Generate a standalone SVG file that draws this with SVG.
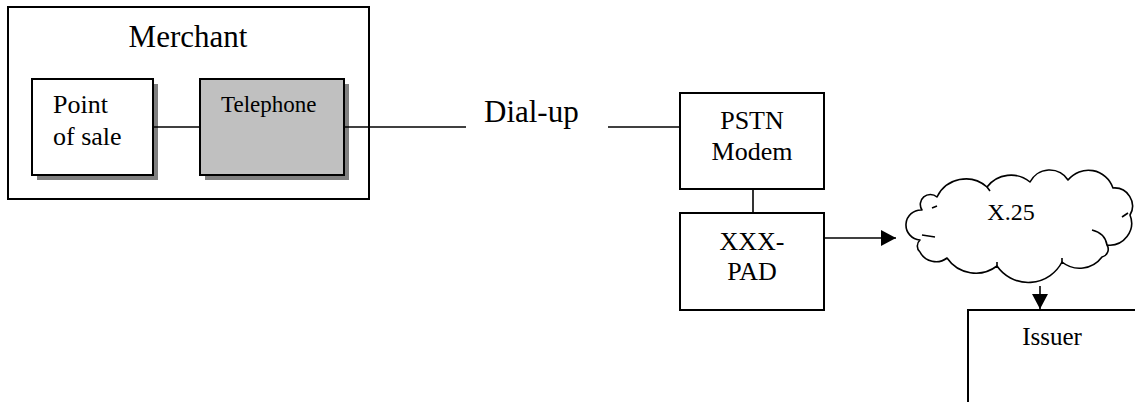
<svg xmlns="http://www.w3.org/2000/svg" width="1135" height="402" viewBox="0 0 1135 402">
<defs>
<style>
.box{fill:#ffffff;stroke:#000;stroke-width:2}
.gray{fill:#c0c0c0;stroke:#000;stroke-width:2}
.shadow{fill:#808080;stroke:none}
.ln{stroke:#000;stroke-width:1.6;fill:none}
.t{font-family:"Liberation Serif","Times New Roman",serif;fill:#000}
.cloud{fill:#fff;stroke:#000;stroke-width:1.6;stroke-linejoin:round}
</style>
<marker id="ah" markerWidth="16" markerHeight="16" viewBox="0 0 16 16" refX="15" refY="8" orient="auto" markerUnits="userSpaceOnUse">
<path d="M0,0 L15,8 L0,16 Z" fill="#000"/>
</marker>
</defs>
<rect width="1135" height="402" fill="#fff"/>

<g id="merchant">
<rect class="box" x="8" y="7" width="361" height="192"/>
<text class="t" x="188" y="47" font-size="31" text-anchor="middle">Merchant</text>
</g>

<g id="pos">
<rect class="shadow" x="37" y="84" width="121" height="96"/>
<rect class="box" x="32" y="79" width="121" height="96"/>
<text class="t" x="53" y="113" font-size="26">Point</text>
<text class="t" x="53" y="145" font-size="26">of sale</text>
</g>

<g id="telephone">
<rect class="shadow" x="205" y="84" width="144" height="96"/>
<rect class="gray" x="200" y="79" width="144" height="96"/>
<text class="t" x="221" y="112" font-size="23">Telephone</text>
</g>

<g id="dialup">
<text class="t" x="484" y="122" font-size="31">Dial-up</text>
</g>

<g id="pstn">
<rect class="box" x="680" y="93" width="144" height="96"/>
<text class="t" x="752" y="129" font-size="26" text-anchor="middle">PSTN</text>
<text class="t" x="752" y="160" font-size="26" text-anchor="middle">Modem</text>
</g>

<g id="pad">
<rect class="box" x="680" y="213" width="144" height="97"/>
<text class="t" x="752" y="250" font-size="26" text-anchor="middle">XXX-</text>
<text class="t" x="752" y="280" font-size="26" text-anchor="middle">PAD</text>
</g>

<g id="x25">
<path class="cloud" d="M920,240 A15,15 0 0 1 922,210 A10,10 0 0 1 937,197 A32,32 0 0 1 987,187 A30,30 0 0 1 1030,182 A22,22 0 0 1 1068,180 A26,26 0 0 1 1113,188 A18,18 0 0 1 1130,215 A22,22 0 0 1 1107,245 A8,8 0 0 1 1102,257 A28,28 0 0 1 1062,262 A38,38 0 0 1 997,266 A35,35 0 0 1 947,258 A18,18 0 0 1 920,252 A8,8 0 0 1 920,240 Z"/>
<path class="ln" d="M935,237 L922,235 M987,187 L990,191 M1122,217 L1128,213 M1092,230 Q1105,233 1107,245 M1062,262 L1062,258 M997,266 L997,262 M932,208 L937,206"/>
<text class="t" x="1011" y="220" font-size="24" text-anchor="middle">X.25</text>
</g>

<g id="issuer">
<rect class="box" x="968" y="310" width="200" height="150"/>
<text class="t" x="1052" y="345" font-size="25" text-anchor="middle">Issuer</text>
</g>

<g id="connectors">
<line class="ln" x1="153" y1="127" x2="200" y2="127"/>
<line class="ln" x1="344" y1="127" x2="466" y2="127"/>
<line class="ln" x1="608" y1="127" x2="680" y2="127"/>
<line class="ln" x1="753" y1="189" x2="753" y2="213"/>
<line class="ln" x1="824" y1="238" x2="896" y2="238" marker-end="url(#ah)"/>
<line class="ln" x1="1040" y1="286" x2="1040" y2="309" marker-end="url(#ah)"/>
</g>
</svg>
